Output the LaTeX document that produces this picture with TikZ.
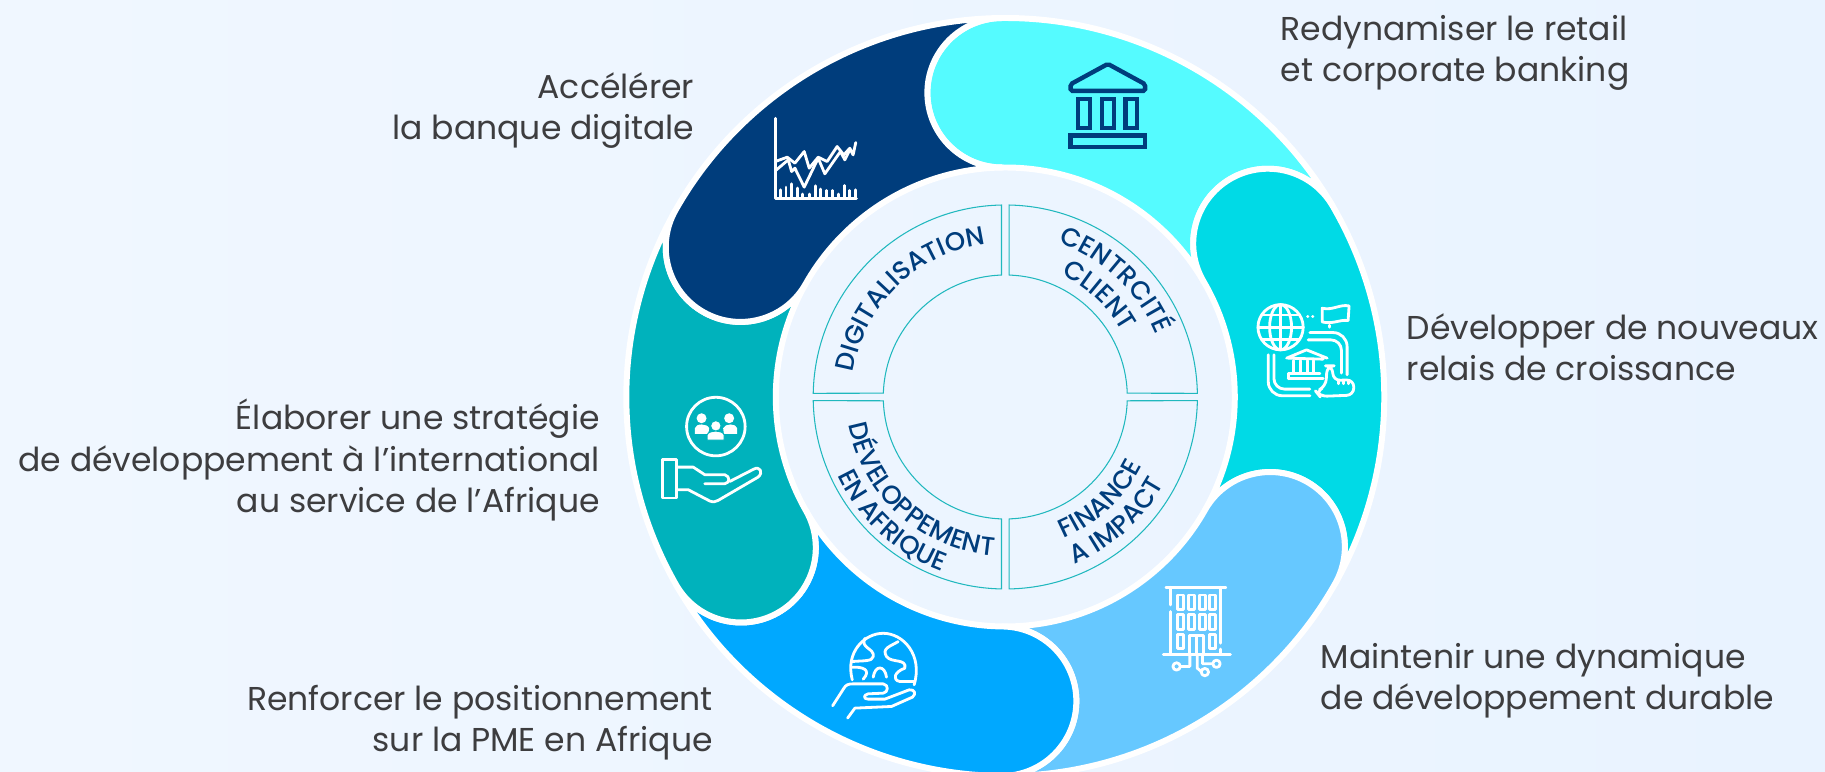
\documentclass[tikz,border=0pt]{standalone}
\usepackage{fontspec}
\setmainfont{Poppins}
\newfontfamily\ringfam{Poppins Medium}
\usetikzlibrary{decorations.text}

\definecolor{bgleft}{HTML}{F0F7FF}
\definecolor{bgright}{HTML}{E9F3FF}
\definecolor{segcyan}{HTML}{55FBFF}
\definecolor{segturq}{HTML}{00DAE6}
\definecolor{segsky}{HTML}{66C8FF}
\definecolor{segblue}{HTML}{00A8FF}
\definecolor{segteal}{HTML}{00B2BC}
\definecolor{segnavy}{HTML}{003D7C}
\definecolor{quadline}{HTML}{20B8BE}
\definecolor{labelgrey}{HTML}{3D3D3F}

\newcommand{\ringfont}{\ringfam\fontsize{7.4}{8}\selectfont\color{segnavy}}

% color, angle of the head, angle of the next head
\newcommand{\ringseg}[3]{
    \draw[segline,fill=#1] (#2:3.79)
        arc[start angle=#2, delta angle=180, radius=0.7475]
        arc[start angle=#2, end angle=#3, radius=2.295]
        arc[start angle=#3+180, delta angle=-180, radius=0.7475]
        arc[start angle=#3, end angle=#2, radius=3.79] -- cycle;
}

\tikzset{
    segline/.style={draw=white,line width=1.7pt,line join=round},
    quad/.style={draw=quadline,line width=0.3pt},
    arclabel/.style={decorate,decoration={text along path,text align=center,text={|\ringfont|#1}}},
    sidelabel/.style={text=labelgrey,font=\fontsize{9.4}{11.7}\selectfont,inner sep=0pt},
    iconbox/.style={x=0.003333cm,y=-0.003333cm,line cap=round,line join=round},
    iconline/.style={draw=white,line width=0.8pt}
}

\begin{document}
\begin{tikzpicture}
    \shade[left color=bgleft,right color=bgright] (-10.053,-3.75) rectangle (8.197,3.97);
    \clip (-10.053,-3.75) rectangle (8.197,3.97);

    \ringseg{segcyan}{90.6}{30.3}
    \ringseg{segturq}{30.3}{-29.5}
    \ringseg{segsky}{-29.5}{-90.7}
    \ringseg{segblue}{-90.7}{-150.3}
    \ringseg{segteal}{-150.3}{-209.5}
    \ringseg{segnavy}{150.5}{90.6}

    \draw[quad] (0.038,1.2194) -- (0.038,1.9196) arc[start angle=88.9, end angle=1.1, radius=1.92]
        -- (1.2194,0.038) arc[start angle=1.8, end angle=88.2, radius=1.22] -- cycle;
    \draw[quad] (-0.038,1.2194) -- (-0.038,1.9196) arc[start angle=91.1, end angle=178.9, radius=1.92]
        -- (-1.2194,0.038) arc[start angle=178.2, end angle=91.8, radius=1.22] -- cycle;
    \draw[quad] (-0.038,-1.2194) -- (-0.038,-1.9196) arc[start angle=268.9, end angle=181.1, radius=1.92]
        -- (-1.2194,-0.038) arc[start angle=181.8, end angle=268.2, radius=1.22] -- cycle;
    \draw[quad] (0.038,-1.2194) -- (0.038,-1.9196) arc[start angle=271.1, end angle=358.9, radius=1.92]
        -- (1.2194,-0.038) arc[start angle=358.2, end angle=271.8, radius=1.22] -- cycle;

    \path[arclabel=DIGITALISATION] (184:1.54) arc[start angle=184, end angle=84, radius=1.54];
    \path[arclabel=CENTRCITÉ] (96.7:1.63) arc[start angle=96.7, end angle=-3.3, radius=1.63];
    \path[arclabel=CLIENT] (97.2:1.34) arc[start angle=97.2, end angle=-2.8, radius=1.34];
    \path[arclabel=FINANCE] (-97:1.53) arc[start angle=-97, end angle=3, radius=1.53];
    \path[arclabel=A IMPACT] (-98:1.81) arc[start angle=-98, end angle=2, radius=1.81];
    \path[arclabel=DÉVELOPPEMENT] (178:1.59) arc[start angle=178, end angle=278, radius=1.59];
    \path[arclabel=EN AFRIQUE] (177.5:1.855) arc[start angle=177.5, end angle=277.5, radius=1.855];

    \node[sidelabel,anchor=east,align=right] (digital) at (-3.103,2.86) {Accélérer\\la banque digitale};
    \node[sidelabel,anchor=west,align=left] (retail) at (2.747,3.445) {Redynamiser le retail\\et corporate banking};
    \node[sidelabel,anchor=west,align=left] (relais) at (4.007,0.5) {Développer de nouveaux\\relais de croissance};
    \node[sidelabel,anchor=west,align=left] (durable) at (3.147,-2.835) {Maintenir une dynamique\\de développement durable};
    \node[sidelabel,anchor=east,align=right] (pme) at (-2.918,-3.255) {Renforcer le positionnement\\sur la PME en Afrique};
    \node[sidelabel,anchor=east,align=right] (inter) at (-4.048,-0.63) {Élaborer une stratégie\\de développement à l’international\\au service de l’Afrique};

    % bank
    \begin{scope}[shift={(0.347,3.57)},iconbox,draw=segnavy,line width=1.25pt,line join=miter]
        \draw[rounded corners=0.5pt] (204,72) -- (316,133) -- (316,153) -- (92,153) -- (92,133) -- cycle;
        \draw (115,178) rectangle (151,264);
        \draw (187,178) rectangle (222,264);
        \draw (257,178) rectangle (292,264);
        \draw (92,287) rectangle (316,321);
    \end{scope}

    % chart
    \begin{scope}[shift={(-2.553,2.97)},iconbox]
        \draw[iconline] (76,55) -- (76,295) -- (320,295);
        \draw[iconline] (92,295) -- (92,270) (108,295) -- (108,262) (125,295) -- (125,252);
        \draw[iconline] (142,295) -- (142,265) (158,295) -- (158,283) (178,295) -- (178,283);
        \draw[iconline] (196,295) -- (196,258) (213,295) -- (213,268) (230,295) -- (230,272);
        \draw[iconline] (247,295) -- (247,272) (265,295) -- (265,283) (283,295) -- (283,257);
        \draw[iconline] (300,295) -- (300,272) (317,295) -- (317,270);
        \draw[iconline] (76,185) -- (112,172) -- (135,190) -- (163,155) -- (178,205) -- (205,172) -- (232,185) -- (262,140) -- (282,165) -- (300,145) -- (310,165) -- (318,128);
        \draw[iconline] (76,213) -- (115,180) -- (125,215) -- (135,205) -- (163,262) -- (205,175) -- (225,222) -- (272,155) -- (285,180) -- (300,150);
    \end{scope}

    % globe and bank
    \begin{scope}[shift={(2.347,1.07)},iconbox]
        \draw[iconline] (122,112) circle[radius=68];
        \draw[iconline] (122,112) ellipse[x radius=33, y radius=68];
        \draw[iconline] (122,44) -- (122,180) (54,112) -- (190,112) (65,75) -- (179,75) (65,150) -- (179,150);
        \draw[iconline] (203,80) -- (204,80) (218,80) -- (219,80);
        \draw[iconline] (247,55) .. controls (280,62) and (300,42) .. (328,48) -- (325,92) .. controls (300,88) and (280,104) .. (247,96) -- cycle;
        \draw[iconline] (270,106) -- (270,112);
        \draw[iconline,rounded corners=4pt] (210,128) -- (322,128) -- (322,255);
        \draw[iconline,rounded corners=3pt] (205,150) -- (305,150) -- (305,250);
        \draw[iconline,rounded corners=4pt] (85,195) -- (85,318) -- (210,318);
        \draw[iconline,rounded corners=3pt] (102,195) -- (102,298) -- (210,298);
        \draw[iconline] (140,205) -- (200,180) -- (262,205) (145,205) -- (250,208);
        \draw[iconline] (162,212) -- (162,250) (182,212) -- (182,250) (202,212) -- (202,250) (222,212) -- (222,250);
        \draw[iconline] (145,267) -- (145,250) -- (240,250) (145,267) -- (250,267);
        \draw[iconline,rounded corners=2pt] (228,305) -- (258,290) -- (262,228) -- (278,228) -- (280,272) -- (342,270) -- (342,316) -- (240,320) -- cycle;
        \draw[iconline] (295,272) -- (295,282) (310,272) -- (310,282) (325,272) -- (325,282);
    \end{scope}

    % building
    \begin{scope}[shift={(1.347,-1.73)},iconbox]
        \draw[iconline] (78,52) -- (258,52) (70,253) -- (272,253);
        \draw[iconline] (92,52) -- (92,105) (92,125) -- (92,253) (243,52) -- (243,220) (243,238) -- (243,253);
        \draw[iconline] (112,75) rectangle (130,118) (145,75) rectangle (163,118) (178,75) rectangle (196,118) (210,75) rectangle (228,118);
        \draw[iconline] (112,135) rectangle (130,178) (145,135) rectangle (163,178) (178,135) rectangle (196,178) (210,135) rectangle (228,178);
        \draw[iconline] (112,195) rectangle (130,235) (210,195) rectangle (228,235);
        \draw[iconline] (148,253) -- (148,198) -- (192,198) -- (192,253) (170,198) -- (170,253);
        \draw[iconline] (150,253) -- (150,290) -- (122,290) (172,253) -- (172,295) -- (184,305) (188,253) -- (188,282) -- (218,282);
        \draw[iconline] (110,290) circle[radius=11] (195,307) circle[radius=11] (230,282) circle[radius=11];
    \end{scope}

    % earth in a hand
    \begin{scope}[shift={(-1.853,-2.23)},iconbox]
        \draw[iconline] (97,180) .. controls (75,95) and (135,40) .. (190,40) .. controls (250,40) and (310,105) .. (283,195);
        \draw[iconline] (135,55) .. controls (120,85) and (165,85) .. (160,110) .. controls (158,125) and (130,122) .. (95,125);
        \draw[iconline] (235,65) .. controls (210,80) and (185,85) .. (200,110) .. controls (215,130) and (262,115) .. (255,145) .. controls (225,155) and (215,180) .. (240,185) -- (285,185);
        \draw[iconline] (95,142) .. controls (130,140) and (155,150) .. (130,178);
        \draw[iconline] (160,172) .. controls (165,135) and (195,135) .. (200,172);
        \draw[iconline] (38,258) -- (72,205) .. controls (78,195) and (85,192) .. (100,192) -- (190,192) .. controls (208,195) and (205,218) .. (190,220) -- (145,222) .. controls (130,225) and (130,238) .. (145,238) -- (195,238) -- (268,210) .. controls (285,208) and (290,222) .. (278,232) -- (215,260) -- (105,265) -- (83,295);
    \end{scope}

    % people in a hand
    \begin{scope}[shift={(-3.553,0.17)},iconbox]
        \draw[iconline] (198,140) circle[radius=88];
        \fill[white] (155,115) circle[radius=15] (238,115) circle[radius=15];
        \fill[white] (135,162) -- (135,145) .. controls (137,130) and (172,130) .. (178,145) -- (175,162) -- cycle;
        \fill[white] (220,145) .. controls (225,130) and (260,130) .. (262,145) -- (262,162) -- (222,162) -- cycle;
        \fill[white,draw=segteal,line width=0.3pt] (198,138) circle[radius=16];
        \fill[white,draw=segteal,line width=0.3pt] (172,181) -- (172,165) .. controls (175,150) and (220,150) .. (223,165) -- (223,181) -- cycle;
        \draw[iconline] (38,240) rectangle (80,355);
        \draw[iconline] (80,262) -- (130,262) -- (165,285) -- (225,285) .. controls (242,290) and (240,310) .. (225,312) -- (165,312);
        \draw[iconline] (80,330) -- (115,330) -- (180,364) .. controls (190,368) and (198,366) .. (205,362) -- (325,292) .. controls (342,278) and (330,258) .. (312,268) -- (240,305);
    \end{scope}
\end{tikzpicture}
\end{document}
